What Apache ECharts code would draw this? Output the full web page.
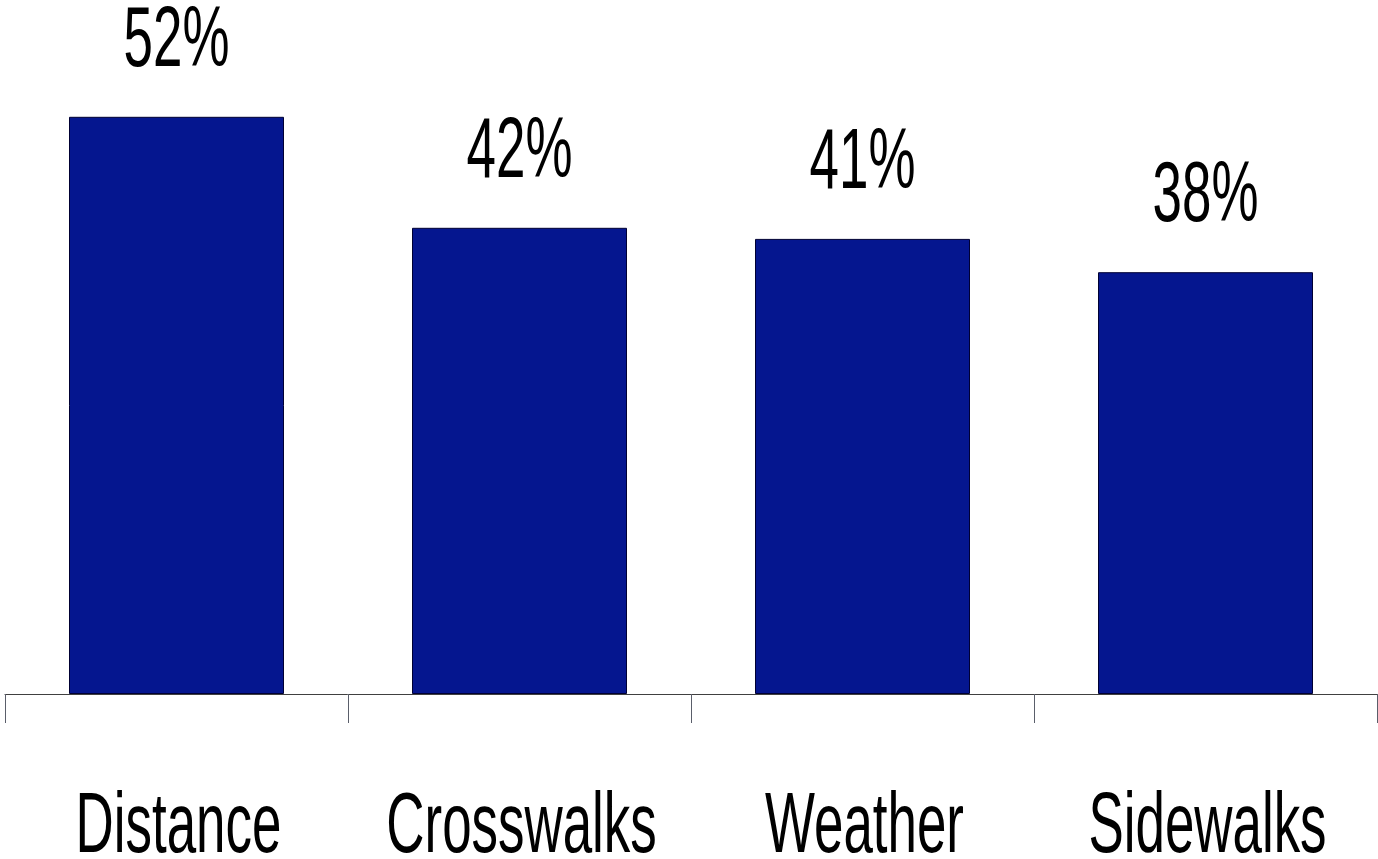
<!DOCTYPE html>
<html>
<head>
<meta charset="utf-8">
<style>
  html, body { margin: 0; padding: 0; background: #ffffff; }
  #chart { width: 1378px; height: 859px; }
</style>
<script src="https://cdn.jsdelivr.net/npm/echarts@6/dist/echarts.min.js"></script>
</head>
<body>
<div id="chart"></div>
<script>
const categories = ['Distance', 'Crosswalks', 'Weather', 'Sidewalks'];
const values = [52, 42, 41, 38];
const valueLabels = ['52%', '42%', '41%', '38%'];

const chart = echarts.init(document.getElementById('chart'), null, { renderer: 'canvas' });

const FONT = '"Liberation Sans", Arial, sans-serif';
const FS = 86;
const SX = 0.615;

const option = {
  backgroundColor: '#ffffff',
  animation: false,
  grid: { left: 5, right: 1, top: 28, bottom: 165, containLabel: false },
  xAxis: {
    type: 'category',
    data: categories,
    boundaryGap: true,
    axisLine: { show: true, lineStyle: { color: '#404040', width: 1 } },
    axisTick: { show: true, length: 29, alignWithLabel: false, lineStyle: { color: '#5a5e6a', width: 1 } },
    axisLabel: { show: false },
    splitLine: { show: false }
  },
  yAxis: {
    type: 'value',
    min: 0,
    max: 60,
    show: false,
    splitLine: { show: false }
  },
  series: [
    {
      type: 'bar',
      data: values,
      barWidth: 215,
      itemStyle: { color: '#05168F', borderColor: '#000033', borderWidth: 1 }
    },
    {
      type: 'custom',
      clip: false,
      data: values.map((v, i) => [i, v]),
      renderItem: function (params, api) {
        const i = api.value(0);
        const v = api.value(1);
        const top = api.coord([i, v]);
        const base = api.coord([i, 0]);
        return {
          type: 'group',
          children: [
            {
              type: 'text',
              x: top[0],
              y: top[1] - 75,
              scaleX: SX,
              style: {
                x: 0, y: 0,
                text: valueLabels[params.dataIndex],
                fill: '#000000',
                font: 'normal ' + FS + 'px ' + FONT,
                align: 'center',
                verticalAlign: 'middle'
              }
            },
            {
              type: 'text',
              x: base[0] + 2,
              y: base[1] + 134,
              scaleX: SX,
              style: {
                x: 0, y: 0,
                text: categories[params.dataIndex],
                fill: '#000000',
                font: 'normal ' + FS + 'px ' + FONT,
                align: 'center',
                verticalAlign: 'middle'
              }
            }
          ]
        };
      }
    }
  ]
};

chart.setOption(option);
</script>
</body>
</html>
